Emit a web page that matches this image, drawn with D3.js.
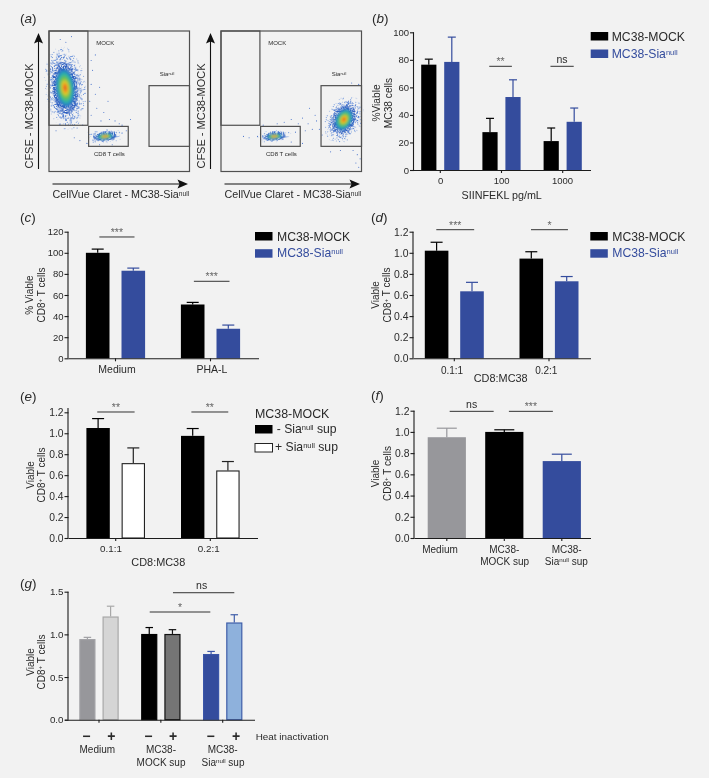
<!DOCTYPE html>
<html><head><meta charset="utf-8">
<script src="https://cdn.jsdelivr.net/npm/d3@7"></script>
<style>
html,body{margin:0;padding:0;background:#f2f2f2}
svg{display:block;filter:blur(0.35px)}
text{font-family:"Liberation Sans",Arial,sans-serif;fill:#2a2a2a}
</style></head><body>
<svg id="c" width="709" height="778"></svg>
<script>
// ---------- DATA ----------
const colBlack="#000000", colBlue="#344c9d", colGray="#97979b";
const seriesMock="MC38-MOCK";

const bGroups=["0","100","1000"];
const bMock=[76.5,27.5,21], bMockErr=[80.5,37.5,30.5];
const bSia=[78.5,53,35], bSiaErr=[96.5,65.5,45];

const cGroups=["Medium","PHA-L"];
const cMock=[100,51], cMockErr=[103.5,53];
const cSia=[83,28], cSiaErr=[85.5,31.5];

const dGroups=["0.1:1","0.2:1"];
const dMock=[1.02,0.945], dMockErr=[1.10,1.01];
const dSia=[0.635,0.73], dSiaErr=[0.72,0.775];

const eGroups=["0.1:1","0.2:1"];
const eMinus=[1.05,0.975], eMinusErr=[1.14,1.045];
const ePlus=[0.715,0.645], ePlusErr=[0.86,0.73];

const fGroups=["Medium","MC38-MOCK sup","MC38-Sia sup"];
const fVals=[0.95,1.0,0.725], fErr=[1.035,1.02,0.79];

const gGroups=["Medium","MC38-MOCK sup","MC38-Sia sup"];
const gMinus=[0.945,1.005,0.77], gMinusErr=[0.965,1.08,0.80];
const gPlus=[1.21,1.005,1.14], gPlusErr=[1.33,1.055,1.23];

// flow cytometry gates & populations, in fractions of the plot box
const gates=[[0,0.329,0.277,1],[0.282,0.179,0.564,0.321],[0.712,0.179,1,0.611]];
const leftPops=[[0.115,0.595,0.145,0.30,-6],[0.40,0.25,0.13,0.05,-6]];
const rightPops=[[0.875,0.37,0.125,0.175,28],[0.38,0.25,0.12,0.045,-5]];
const leftStray=[[.30,.62],[.33,.55],[.36,.60],[.31,.72],[.29,.50],[.34,.45],[.39,.42],[.30,.40],[.43,.37],[.47,.36],[.50,.34],[.52,.33],[.37,.36],[.24,.33],[.20,.31],[.18,.24],[.22,.22],[.28,.28],[.55,.29],[.58,.37],[.33,.83],[.30,.79],[.42,.50],[.12,.92],[.16,.96],[.08,.94],[.05,.29],[.45,.19],[.36,.19],[.27,.20]];
const rightStray=[[.50,.37],[.55,.34],[.58,.38],[.62,.34],[.65,.30],[.68,.36],[.60,.29],[.53,.28],[.45,.35],[.70,.30],[.72,.26],[.67,.40],[.63,.45],[.40,.34],[.26,.25],[.20,.24],[.16,.25],[.58,.20],[.50,.21],[.97,.12],[.99,.09],[.96,.06],[.94,.15],[.98,.03],[.98,.62],[.93,.63],[.78,.14],[.85,.15],[.30,.33],[.35,.18]];
// ---------- HELPERS ----------
const svg=d3.select("#c");
svg.append("rect").attr("width",709).attr("height",778).attr("fill","#f2f2f2");
const defs=svg.append("defs");

function rich(sel,segs){
  segs.forEach(s=>{
    if(s[1]==="sup"){
      sel.append("tspan").attr("font-size",(s[2]||"0.62em")).attr("dy","-0.42em").text(s[0]);
    }else{
      const t=sel.append("tspan").text(s[0]);
      if(sel.attr("data-up")) t.attr("dy","0.26em");
      sel.attr("data-up","1");
    }
  });
  sel.attr("data-up",null);
  return sel;
}
function label(x,y,segs,o={}){
  const t=svg.append("text").attr("x",x).attr("y",y)
    .attr("font-size",o.size||10).attr("text-anchor",o.anchor||"middle");
  if(o.fill) t.style("fill",o.fill);
  if(o.style) t.attr("font-style",o.style);
  if(o.rot!==undefined) t.attr("transform",`rotate(${o.rot} ${x} ${y})`);
  rich(t,typeof segs==="string"?[[segs]]:segs);
  return t;
}
const cd8T=[["CD8"],["+","sup"],[" T cells"]];

function panelLabel(x,y,ch){
  const t=svg.append("text").attr("x",x).attr("y",y).attr("font-size",13.5);
  t.append("tspan").text("(");
  t.append("tspan").attr("font-style","italic").text(ch);
  t.append("tspan").text(")");
}

function barPanel(p){
  const g=svg.append("g");
  const step=p.step, n=p.groups.length;
  const x=d3.scaleBand().domain(p.groups).range([p.c0-step/2,p.c0+step*(n-0.5)]);
  const y=d3.scaleLinear().domain([0,p.yMax]).range([p.y0,p.yTop]);
  const pos=d3.scaleLinear().domain([0,1]).range([p.c0,p.c0+step]);
  const sub=d3.scalePoint().domain(p.series.map(s=>s.name)).range(p.series.length>1?[-p.off,p.off]:[0,0]);

  p.series.forEach(s=>{
    const sg=g.append("g");
    const data=p.groups.map((k,i)=>({k,i,v:s.values[i],e:s.errs[i]}));
    const col=(d)=>Array.isArray(s.fill)?s.fill[d.i]:s.fill;
    const stk=(d)=>Array.isArray(s.stroke)?s.stroke[d.i]:(s.stroke||col(d));
    const cx=d=>x(d.k)+x.bandwidth()/2+(p.series.length>1?sub(s.name):0);
    sg.selectAll("line.e").data(data).join("line").attr("x1",cx).attr("x2",cx)
      .attr("y1",d=>y(d.v)).attr("y2",d=>y(d.e)).attr("stroke",stk).attr("stroke-width",p.errW||1.2);
    sg.selectAll("line.c").data(data).join("line").attr("x1",d=>cx(d)-p.cap/2).attr("x2",d=>cx(d)+p.cap/2)
      .attr("y1",d=>y(d.e)).attr("y2",d=>y(d.e)).attr("stroke",stk).attr("stroke-width",p.errW||1.2);
    const sw=s.sw===undefined?0:s.sw;
    sg.selectAll("rect").data(data).join("rect")
      .attr("x",d=>cx(d)-p.w/2+sw/2).attr("width",p.w-sw)
      .attr("y",d=>y(d.v)+sw/2).attr("height",d=>p.y0-y(d.v)-sw/2)
      .attr("fill",col).attr("stroke",sw?stk:"none").attr("stroke-width",sw);
  });

  const yAx=d3.axisLeft(y).tickValues(p.ticks).tickFormat(p.fmt).tickSize(4).tickPadding(1);
  const ya=svg.append("g").attr("transform",`translate(${p.axX},0)`).call(yAx);
  const xAx=d3.axisBottom(x).tickFormat("").tickSize(3).tickSizeOuter(0);
  const xa=svg.append("g").attr("transform",`translate(0,${p.y0})`).call(xAx);
  xa.select(".domain").attr("d",`M${p.axStart||p.axX},0.5H${p.axEnd}`);
  ya.select(".domain").attr("d",`M-0.5,${p.yLineTop||p.yTop}V${p.y0}`);
  [ya,xa].forEach(a=>{
    a.selectAll("path,line").attr("stroke","#1c1c1c").attr("stroke-width",1.1);
    a.selectAll("text").attr("font-size",p.tickSize||10).attr("font-family",null).style("fill","#2a2a2a");
  });

  (p.brackets||[]).forEach(b=>{
    const ly=y(b.at);
    svg.append("line").attr("x1",pos(b.from)).attr("x2",pos(b.to)).attr("y1",ly).attr("y2",ly)
      .attr("stroke","#333").attr("stroke-width",1);
    const mid=(pos(b.from)+pos(b.to))/2;
    if(b.text==="ns") label(mid+(b.dx||0),ly-3.6,"ns",{size:10.5});
    else label(mid+(b.dx||0),ly-1,b.text,{size:10.5}).style("fill","#666");
  });
  return {x,y};
}
function swatch(x,y,fill,stroke){
  svg.append("rect").attr("x",x).attr("y",y).attr("width",17.5).attr("height",8.5)
    .attr("fill",fill).attr("stroke",stroke||"none").attr("stroke-width",stroke?1:0);
}
function legendMockSia(xs,xt,y1,b1,y2,b2){
  swatch(xs,y1,colBlack);
  label(xt,b1,seriesMock,{anchor:"start",size:12.2});
  swatch(xs,y2,colBlue);
  label(xt,b2,[["MC38-Sia"],["null","sup"]],{anchor:"start",size:12.2,fill:colBlue});
}

// ---------- PANEL a ----------
const spk=(id,k,t,seed)=>{
  const f=defs.append("filter").attr("id",id).attr("x","-10%").attr("y","-10%").attr("width","120%").attr("height","120%")
    .attr("color-interpolation-filters","sRGB");
  f.append("feTurbulence").attr("type","fractalNoise").attr("baseFrequency",0.85).attr("numOctaves",2).attr("seed",seed).attr("result","n");
  f.append("feColorMatrix").attr("in","n").attr("type","matrix")
    .attr("values",`0 0 0 0 0 0 0 0 0 0 0 0 0 0 0 ${k} 0 0 0 ${t}`).attr("result","m");
  f.append("feComposite").attr("in","SourceGraphic").attr("in2","m").attr("operator","in");
};
spk("spk0",14,-8.6,2); spk("spk1",14,-7.7,4); spk("spk2",14,-6.4,9);
defs.append("filter").attr("id","soft").append("feGaussianBlur").attr("stdDeviation",0.9);
const rg=defs.append("radialGradient").attr("id","dens");
[[0,"#e0451f"],[0.16,"#ee8a20"],[0.32,"#dccb2a"],[0.5,"#6cc152"],[0.72,"#2db3a8"],[0.9,"#2a80c8"],[1,"#2a62c0"]]
 .forEach(s=>rg.append("stop").attr("offset",s[0]).attr("stop-color",s[1]));

function flow(x0,pops,stray){
  const size=140.5, top=31;
  const fx=d3.scaleLinear().domain([0,1]).range([x0,x0+size]);
  const fy=d3.scaleLinear().domain([0,1]).range([top+size,top]);
  const g=svg.append("g");
  pops.forEach(p=>{
    const [cx,cy,rx,ry,a]=p;
    const px=fx(cx),py=fy(cy),prx=fx(rx)-fx(0),pry=fy(0)-fy(ry);
    const pg=g.append("g").attr("transform",`translate(${px},${py}) rotate(${a})`);
    pg.append("ellipse").attr("rx",prx).attr("ry",pry).attr("fill","#6f96dc").attr("filter","url(#spk0)");
    pg.append("ellipse").attr("rx",prx*0.8).attr("ry",pry*0.8).attr("fill","#4a78d0").attr("filter","url(#spk1)");
    pg.append("ellipse").attr("rx",prx*0.62).attr("ry",pry*0.62).attr("fill","#2f5fc0").attr("filter","url(#spk2)");
    pg.append("ellipse").attr("rx",prx*0.46).attr("ry",pry*0.46).attr("fill","url(#dens)").attr("filter","url(#soft)");
  });
  g.selectAll("circle").data(stray).join("circle").attr("cx",d=>fx(d[0])).attr("cy",d=>fy(d[1]))
    .attr("r",0.55).attr("fill","#4a74cc");
  g.append("rect").attr("x",fx(0)).attr("y",fy(1)).attr("width",size).attr("height",size)
    .attr("fill","none").attr("stroke","#505050").attr("stroke-width",1.2);
  g.selectAll("rect.g").data(gates).join("rect").attr("class","g")
    .attr("x",d=>fx(d[0])).attr("y",d=>fy(d[3])).attr("width",d=>fx(d[2])-fx(d[0])).attr("height",d=>fy(d[1])-fy(d[3]))
    .attr("fill","none").attr("stroke","#505050").attr("stroke-width",1.2);
  label(fx(0.40),44.8,"MOCK",{size:6});
  label(fx(0.84),76.3,[["Sia"],["null","sup"]],{size:6});
  label(fx(0.43),156,"CD8 T cells",{size:6});
  const ax=x0-10.5;
  g.append("line").attr("x1",ax).attr("x2",ax).attr("y1",169).attr("y2",40).attr("stroke","#111").attr("stroke-width",1.1);
  g.append("path").attr("d",`M${ax},33L${ax+4.5},43.5L${ax},41.5L${ax-4.5},43.5Z`).attr("fill","#111");
  g.append("line").attr("x1",x0+3.5).attr("x2",x0+132).attr("y1",184).attr("y2",184).attr("stroke","#111").attr("stroke-width",1.1);
  g.append("path").attr("d",`M${x0+139},184L${x0+128.5},179.5L${x0+130.5},184L${x0+128.5},188.5Z`).attr("fill","#111");
  label(x0-16,116,"CFSE - MC38-MOCK",{size:11,rot:-90,anchor:"middle"});
  label(x0+3.5,198.3,[["CellVue Claret - MC38-Sia"],["null","sup"]],{size:10.75,anchor:"start"});
}
panelLabel(20,23,"a");
flow(49,leftPops,leftStray);
flow(221,rightPops,rightStray);

// ---------- PANEL b ----------
panelLabel(372,23,"b");
barPanel({groups:bGroups,step:61.2,c0:440.3,off:11.5,w:15.2,cap:8,y0:170,yTop:32.3,yMax:100,tickSize:9.5,
  ticks:[0,20,40,60,80,100],fmt:d3.format("d"),axX:414,axEnd:591,
  series:[{name:"m",values:bMock,errs:bMockErr,fill:colBlack},{name:"s",values:bSia,errs:bSiaErr,fill:colBlue}],
  brackets:[{at:75.3,from:.80,to:1.17,text:"**"},{at:75.3,from:1.80,to:2.18,text:"ns"}]});
bGroups.forEach((t,i)=>label(440.6+i*61,184,t,{size:9.5}));
label(501.7,199,"SIINFEKL pg/mL",{size:10.75});
label(380,103,"%Viable",{size:10.2,rot:-90});
label(391.8,103,"MC38 cells",{size:10.2,rot:-90});
legendMockSia(590.7,611.7,32,40.8,49.5,58);

// ---------- PANEL c ----------
panelLabel(20,222,"c");
barPanel({groups:cGroups,step:95,c0:115.5,off:17.8,w:23.6,cap:12,y0:358.3,yTop:231.7,yMax:120,tickSize:9.5,
  ticks:[0,20,40,60,80,100,120],fmt:d3.format("d"),axX:68.5,axEnd:259,
  series:[{name:"m",values:cMock,errs:cMockErr,fill:colBlack},{name:"s",values:cSia,errs:cSiaErr,fill:colBlue}],
  brackets:[{at:115,from:-.17,to:.20,text:"***"},{at:73,from:.825,to:1.2,text:"***"}]});
label(117,373,"Medium",{size:10.5});
label(212,373,"PHA-L",{size:10.5});
label(33,295,"% Viable",{size:10,rot:-90});
label(45,295,cd8T,{size:10,rot:-90});
legendMockSia(255,277,232,241,249.2,257.2);

// ---------- PANEL d ----------
panelLabel(371,222,"d");
barPanel({groups:dGroups,step:94.7,c0:454.3,off:17.7,w:23.6,cap:12,y0:358.3,yTop:231.7,yMax:1.2,tickSize:10.4,
  ticks:[0,.2,.4,.6,.8,1,1.2],fmt:d3.format(".1f"),axX:413.5,axEnd:591,
  series:[{name:"m",values:dMock,errs:dMockErr,fill:colBlack},{name:"s",values:dSia,errs:dSiaErr,fill:colBlue}],
  brackets:[{at:1.219,from:-.19,to:.21,text:"***"},{at:1.219,from:.81,to:1.20,text:"*"}]});
label(452,374,"0.1:1",{size:10});
label(546.3,374,"0.2:1",{size:10});
label(500.7,381.7,"CD8:MC38",{size:10.9});
label(378.5,295,"Viable",{size:10,rot:-90});
label(390.5,295,cd8T,{size:10,rot:-90});
legendMockSia(590.3,612.3,232,241,249.2,257.2);

// ---------- PANEL e ----------
panelLabel(20,401,"e");
barPanel({groups:eGroups,step:94.6,c0:115.7,off:17.6,w:23.4,cap:12,y0:538,yTop:412.3,yMax:1.2,yLineTop:408,tickSize:10.3,
  ticks:[0,.2,.4,.6,.8,1,1.2],fmt:d3.format(".1f"),axX:68.5,axEnd:258,
  series:[{name:"m",values:eMinus,errs:eMinusErr,fill:colBlack},
          {name:"p",values:ePlus,errs:ePlusErr,fill:"#ffffff",stroke:"#222",sw:1.1}],
  brackets:[{at:1.203,from:-.195,to:.20,text:"**"},{at:1.203,from:.80,to:1.19,text:"**"}]});
label(111,551.7,"0.1:1",{size:9.8});
label(208.7,551.7,"0.2:1",{size:9.8});
label(158.3,565.7,"CD8:MC38",{size:10.9});
label(33.5,475,"Viable",{size:10,rot:-90});
label(45,475,cd8T,{size:10,rot:-90});
label(255,418.3,seriesMock,{anchor:"start",size:12.4});
swatch(255,425,colBlack);
label(276.7,433.3,[["- Sia"],["null","sup"],[" sup"]],{anchor:"start",size:12.2});
swatch(255,443.5,"#ffffff","#222");
label(275,451,[["+ Sia"],["null","sup"],[" sup"]],{anchor:"start",size:12.2});

// ---------- PANEL f ----------
panelLabel(371,400,"f");
barPanel({groups:fGroups,step:57.5,c0:446.8,off:0,w:38.2,cap:20,y0:538,yTop:410.7,yMax:1.2,tickSize:10.4,
  ticks:[0,.2,.4,.6,.8,1,1.2],fmt:d3.format(".1f"),axX:414.5,axEnd:591,
  series:[{name:"v",values:fVals,errs:fErr,fill:[colGray,colBlack,colBlue]}],
  brackets:[{at:1.194,from:.05,to:.815,text:"ns"},{at:1.194,from:1.08,to:1.845,text:"***"}]});
label(440,553.3,"Medium",{size:10});
label(504.3,553.3,"MC38-",{size:10});
label(504.7,565,"MOCK sup",{size:10});
label(566.7,553.3,"MC38-",{size:10});
label(566.3,565,[["Sia"],["null","sup"],[" sup"]],{size:10});
label(379,473.5,"Viable",{size:10,rot:-90});
label(391,473.5,cd8T,{size:10,rot:-90});

// ---------- PANEL g ----------
panelLabel(20,588,"g");
barPanel({groups:gGroups,step:61.85,c0:99,off:11.6,w:16.2,cap:7.5,y0:719.7,yTop:591.7,yMax:1.5,axStart:65,tickSize:9.8,
  ticks:[0,.5,1,1.5],fmt:d3.format(".1f"),axX:68.5,axEnd:255,
  series:[{name:"m",values:gMinus,errs:gMinusErr,fill:[colGray,colBlack,"#344c9d"],stroke:["#a0a0a4","#000","#3a55a8"],sw:1.2},
          {name:"p",values:gPlus,errs:gPlusErr,fill:["#d5d5d5","#757575","#8eb1dc"],stroke:["#a8a8a8","#111","#3f5ea9"],sw:1.2}],
  brackets:[{at:1.488,from:1.196,to:2.188,text:"ns",dx:-2},{at:1.262,from:.82,to:1.80,text:"*"}]});
const signs=["\u2212","+","\u2212","+","\u2212","+"];
const signX=[86.3,111.3,148.3,173,210.7,236];
signs.forEach((s,i)=>label(signX[i],740.5,s,{size:14}).style("font-weight","bold"));
label(255.7,740,"Heat inactivation",{anchor:"start",size:9.9});
label(97.3,753.3,"Medium",{size:10});
label(161,753.3,"MC38-",{size:10});
label(161,765.7,"MOCK sup",{size:10});
label(222.7,753.3,"MC38-",{size:10});
label(223,765.7,[["Sia"],["null","sup"],[" sup"]],{size:10});
label(33.5,662,"Viable",{size:10,rot:-90});
label(45,662,cd8T,{size:10,rot:-90});
</script>
</body></html>
